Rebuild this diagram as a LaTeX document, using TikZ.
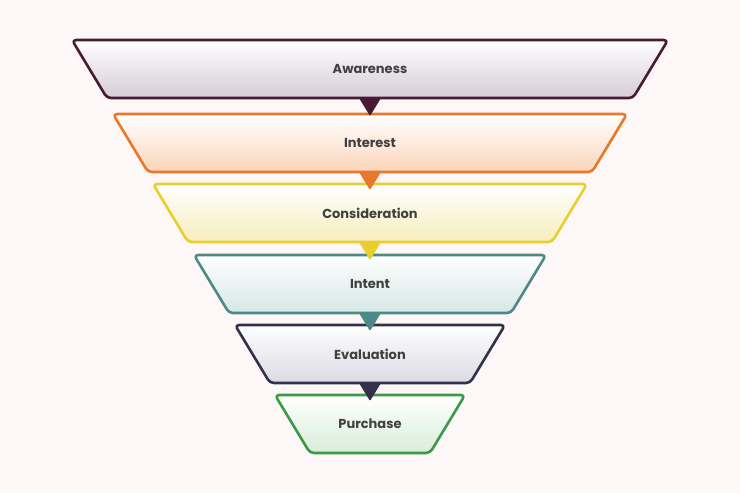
\documentclass[tikz,border=0pt]{standalone}
\usepackage{fontspec}
\setmainfont{Poppins}
\begin{document}
\begin{tikzpicture}[x=1pt,y=-1pt,
  lbl/.style={font=\fontsize{13}{15}\selectfont\bfseries, text=labeltext}]
\definecolor{labeltext}{HTML}{404040}
\definecolor{bg}{HTML}{FDF7F7}
\fill[bg] (0,0) rectangle (740,493);
\useasboundingbox (0,0) rectangle (740,493);
% name, top y, half width top, border color, bottom fill
\def\inset{35}
\foreach \nm/\ty/\hw/\bc/\fc in {
  aw/40/298/4A1A35/D6CCD6,
  in/114/257/E8792A/FAD5BA,
  co/184/217/E6CF2E/F7EDBC,
  it/255/176/4E8A85/D5E7E5,
  ev/325/135/35304A/DADAE3,
  pu/395/95/3A9A45/D8EDD9}{
  \definecolor{bcol}{HTML}{\bc}\definecolor{fcol}{HTML}{\fc}
  \pgfmathsetmacro{\by}{\ty+58}
  \pgfmathsetmacro{\bw}{\hw-\inset}
  \draw[bcol, line width=2.6pt, rounded corners=4pt, line join=round, top color=white, bottom color=fcol]
    (370-\hw,\ty) -- (370+\hw,\ty) -- (370+\bw,\by) -- (370-\bw,\by) -- cycle;
}
\foreach \by/\bc in {98/4A1A35,172/E8792A,242/E6CF2E,313/4E8A85,383/35304A}{
  \definecolor{bcol}{HTML}{\bc}
  \fill[bcol, rounded corners=1pt] (359,\by) -- (381,\by) -- (370,\by+18) -- cycle;
}
\node[lbl] (aw) at (370,69) {Awareness};
\node[lbl] (in) at (370,143) {Interest};
\node[lbl] (co) at (370,213) {Consideration};
\node[lbl] (it) at (370,284) {Intent};
\node[lbl] (ev) at (370,354) {Evaluation};
\node[lbl] (pu) at (370,424) {Purchase};
\end{tikzpicture}
\end{document}
